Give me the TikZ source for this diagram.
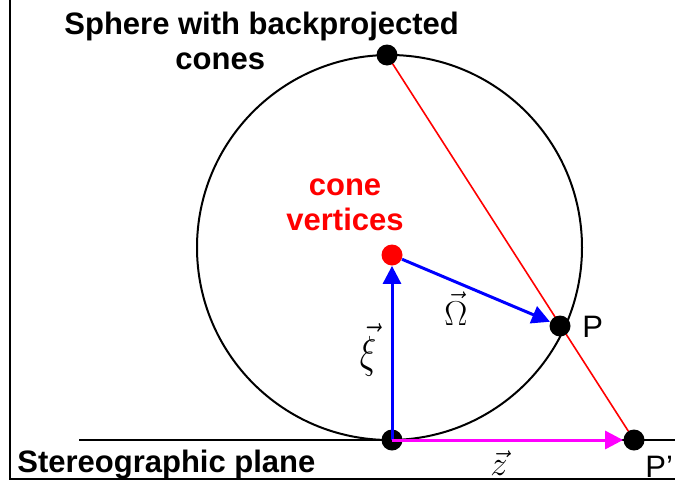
\documentclass[tikz,border=0pt]{standalone}
\usepackage{fontspec}
\setmainfont{Liberation Sans}
\usepackage{amsmath}
\usetikzlibrary{arrows.meta}
\definecolor{cblue}{HTML}{0000FF}
\definecolor{cred}{HTML}{FF0000}
\definecolor{cmag}{HTML}{FF00FF}
\pgfdeclarelayer{bg}
\pgfsetlayers{bg,main}
\tikzset{
  dot/.style={circle, fill=black, inner sep=0pt, minimum size=10.5pt},
  vecarrow/.style={line width=1.5pt, -{Triangle[length=9pt,width=9pt]}},
  lbl/.style={inner sep=0pt, font=\fontsize{15.5}{18}\selectfont},
  blbl/.style={inner sep=0pt, font=\fontsize{15.5}{18}\selectfont\bfseries},
  mlbl/.style={inner sep=0pt, font=\fontsize{17}{20}\selectfont}
}

\begin{document}
\begin{tikzpicture}[x=0.5pt,y=0.5pt]
  \useasboundingbox (0,0) rectangle (675,484);
  \draw[line width=1pt] (10,484) -- (10,5) -- (675,5);
  \node[dot] (N) at (387,429) {};
  \node[dot] (S) at (392,44) {};
  \node[dot, fill=cred] (V) at (392,229) {};
  \node[dot] (P) at (560,158) {};
  \node[dot] (Pp) at (634,44) {};
  \coordinate (L) at (79,44);
  \coordinate (R) at (675,44);
  \begin{pgfonlayer}{bg}
    \draw[line width=1pt] (389.5,236.5) circle (192.5);
    \draw[line width=1pt] (L) -- (R);
    \draw[color=cred, line width=0.8pt] (N.center) -- (Pp.center);
  \end{pgfonlayer}
  \draw[vecarrow, color=cblue] (S.center) -- (V);
  \draw[vecarrow, color=cblue] (V) -- (P);
  \draw[vecarrow, color=cmag] (S.center) -- (Pp);
  % texts
  \node[blbl, anchor=base west] (title) at (64,450) {Sphere with backprojected};
  \node[blbl, anchor=base west] (title2) at (175,415) {cones};
  \node[blbl, text=cred, anchor=base] (cone) at (345,289) {cone};
  \node[blbl, text=cred, anchor=base] (vert) at (345,254) {vertices};
  \node[blbl, anchor=base west] (plane) at (17,12) {Stereographic plane};
  \node[lbl, anchor=base west] (Plbl) at (582,147) {P};
  \node[lbl, anchor=base west] (Pplbl) at (645,7) {P’};
  \node[mlbl, anchor=base] (om) at (456,159) {$\vec{\Omega}$};
  \node[mlbl, anchor=base, yscale=1.3] (xi) at (368,117) {$\vec{\xi}$};
  \node[mlbl, anchor=base] (zz) at (499,9) {$\vec{z}$};
\end{tikzpicture}
\end{document}
